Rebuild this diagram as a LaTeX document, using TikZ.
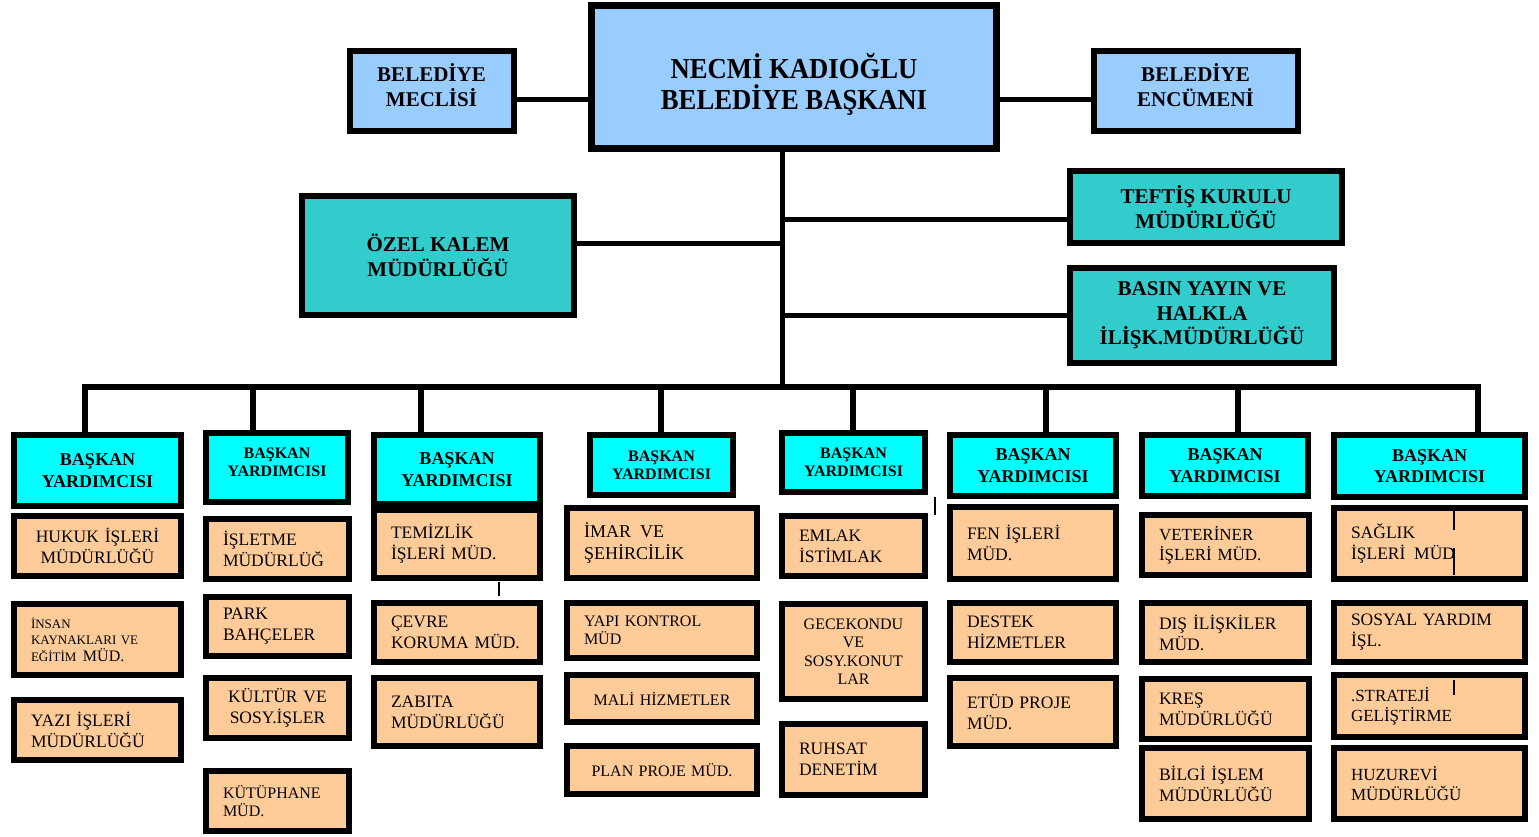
\documentclass[tikz,border=0pt]{standalone}
\usepackage{fontspec}
\setmainfont{Liberation Serif}
\newfontfamily\condserif[FakeStretch=0.92]{Liberation Serif}

\definecolor{meclisblue}{HTML}{99CCFF}
\definecolor{kalemteal}{HTML}{33CCCC}
\definecolor{yardcyan}{HTML}{00FFFF}
\definecolor{mudtan}{HTML}{FFCC99}

\tikzset{
  topbox/.style={draw, line width=6pt, fill=meclisblue, align=center,
    font=\bfseries\fontsize{21}{25}\selectfont},
  kalembox/.style={draw, line width=6pt, fill=kalemteal, align=center,
    font=\bfseries\fontsize{21}{24.5}\selectfont},
  yardbox/.style={draw, line width=6pt, fill=yardcyan, align=center,
    font=\bfseries\fontsize{18}{21.5}\selectfont},
  smallyard/.style={font=\bfseries\fontsize{16}{18}\selectfont},
  mudbox/.style={draw, line width=6pt, fill=mudtan, inner xsep=17pt, inner ysep=2pt,
    align=left, font=\fontsize{17.5}{21}\selectfont},
  smallmud/.style={font=\fontsize{16}{18.5}\selectfont},
  link/.style={line width=5pt}
}

\begin{document}
\begin{tikzpicture}[x=1pt,y=-1pt]
\useasboundingbox (0,0) rectangle (1539,836);

% baskan ve ust kurullar
\node[topbox, line width=7pt, minimum width=405pt, minimum height=143pt] (baskan) at (794,77) {};
\node[align=center, font=\condserif\bfseries\fontsize{29}{31}\selectfont] (baskanyazi) at ([yshift=-7pt]baskan.center) {NECMİ KADIOĞLU\\BELEDİYE BAŞKANI};
\node[topbox, minimum width=164pt, minimum height=80pt] (meclis) at (431.5,90.5) {};
\node[topbox, draw=none, fill=none] (meclisyazi) at ([yshift=5pt]meclis.center) {BELEDİYE\\MECLİSİ};
\node[topbox, minimum width=204pt, minimum height=80pt] (encumen) at (1195.5,90.5) {};
\node[topbox, draw=none, fill=none] (encumenyazi) at ([yshift=5pt]encumen.center) {BELEDİYE\\ENCÜMENİ};

\node[kalembox, minimum width=272pt, minimum height=119pt] (ozelkalem) at (438,255.5) {ÖZEL KALEM\\MÜDÜRLÜĞÜ};
\node[kalembox, minimum width=272pt, minimum height=72pt] (teftis) at (1206,207) {TEFTİŞ KURULU\\MÜDÜRLÜĞÜ};
\node[kalembox, minimum width=264pt, minimum height=95pt] (basin) at (1202,315.5) {BASIN YAYIN VE\\HALKLA\\İLİŞK.MÜDÜRLÜĞÜ};

\coordinate (trunk) at (782,387);
\draw[link] (baskan.south -| trunk) -- (trunk);
\draw[link] ([yshift=-8.5pt]meclis.east) -- ([yshift=-8.5pt]meclis.east -| baskan.west);
\draw[link] ([yshift=-8.5pt]encumen.west) -- ([yshift=-8.5pt]encumen.west -| baskan.east);
\draw[link] ([yshift=12.5pt]ozelkalem.east) -- ([yshift=12.5pt]ozelkalem.east -| trunk);
\draw[link] ([yshift=-12pt]teftis.west) -- ([yshift=-12pt]teftis.west -| trunk);
\draw[link] (basin.west) -- (basin.west -| trunk);

% baskan yardimcilari
\node[yardbox, minimum width=167pt, minimum height=71pt] (by1) at (97.5,470.5) {BAŞKAN\\YARDIMCISI};
\node[yardbox, minimum width=142pt, minimum height=69pt] (by2) at (277,467.5) {};
\node[yardbox, smallyard, draw=none, fill=none] (by2yazi) at ([yshift=5pt]by2.center) {BAŞKAN\\YARDIMCISI};
\node[yardbox, minimum width=166pt, minimum height=69pt] (by3) at (457,469.5) {BAŞKAN\\YARDIMCISI};
\node[yardbox, smallyard, minimum width=143pt, minimum height=60pt] (by4) at (661.5,465) {BAŞKAN\\YARDIMCISI};
\node[yardbox, smallyard, minimum width=143pt, minimum height=59pt] (by5) at (853.5,462.5) {BAŞKAN\\YARDIMCISI};
\node[yardbox, minimum width=166pt, minimum height=61pt] (by6) at (1033,465.5) {BAŞKAN\\YARDIMCISI};
\node[yardbox, minimum width=166pt, minimum height=61pt] (by7) at (1225,465.5) {BAŞKAN\\YARDIMCISI};
\node[yardbox, minimum width=191pt, minimum height=62pt] (by8) at (1429.5,466) {BAŞKAN\\YARDIMCISI};

\coordinate (b1) at (85,387);
\coordinate (b2) at (253,387);
\coordinate (b3) at (421,387);
\coordinate (b4) at (661,387);
\coordinate (b5) at (853,387);
\coordinate (b6) at (1046,387);
\coordinate (b7) at (1238,387);
\coordinate (b8) at (1478,387);
\draw[link, line width=5.5pt] (b1 |- by1.north) -- (b1) -- (b8) -- (b8 |- by8.north);
\draw[link, line width=5.5pt] (b2) -- (b2 |- by2.north);
\draw[link, line width=5.5pt] (b3) -- (b3 |- by3.north);
\draw[link, line width=5.5pt] (b4) -- (b4 |- by4.north);
\draw[link, line width=5.5pt] (b5) -- (b5 |- by5.north);
\draw[link, line width=5.5pt] (b6) -- (b6 |- by6.north);
\draw[link, line width=5.5pt] (b7) -- (b7 |- by7.north);

% mudurlukler
\node[mudbox, text width=133pt, align=center, minimum height=60pt] (hukuk) at (97.5,546) {HUKUK İŞLERİ\\MÜDÜRLÜĞÜ};
\node[mudbox, text width=133pt, minimum height=71pt, font=\fontsize{13}{16.5}\selectfont] (insan) at (97.5,639.5) {İNSAN\\KAYNAKLARI VE\\EĞİTİM\enspace{\fontsize{16}{16}\selectfont MÜD.}};
\node[mudbox, text width=133pt, minimum height=60pt] (yazi) at (97.5,730) {YAZI İŞLERİ\\MÜDÜRLÜĞÜ};

\node[mudbox, text width=109pt, minimum height=60pt] (isletme) at (277.5,549) {İŞLETME\\MÜDÜRLÜĞ};
\node[mudbox, text width=109pt, minimum height=59pt] (park) at (277.5,626.5) {PARK\\BAHÇELER};
\node[mudbox, text width=109pt, align=center, minimum height=60pt] (kultur) at (277.5,708) {KÜLTÜR VE\\SOSY.İŞLER};
\node[mudbox, smallmud, text width=109pt, minimum height=60pt] (kutuphane) at (277.5,801) {KÜTÜPHANE\\MÜD.};

\node[mudbox, text width=132pt, minimum height=68pt] (temizlik) at (457,544) {TEMİZLİK\\İŞLERİ MÜD.};
\node[mudbox, text width=132pt, minimum height=59pt] (cevre) at (457,632.5) {ÇEVRE\\KORUMA MÜD.};
\node[mudbox, text width=132pt, minimum height=68pt] (zabita) at (457,712) {ZABITA\\MÜDÜRLÜĞÜ};

\node[mudbox, text width=156pt, minimum height=70pt, font=\fontsize{18}{21.5}\selectfont] (imar) at (662,543) {İMAR\enspace VE\\ŞEHİRCİLİK};
\node[mudbox, smallmud, text width=156pt, minimum height=55pt] (yapi) at (662,630.5) {YAPI KONTROL\\MÜD};
\node[mudbox, smallmud, text width=156pt, align=center, minimum height=47pt] (mali) at (662,698.5) {MALİ HİZMETLER};
\node[mudbox, smallmud, text width=156pt, align=center, minimum height=48pt] (plan) at (662,770) {PLAN PROJE MÜD.};

\node[mudbox, text width=109pt, minimum height=60pt] (emlak) at (853.5,546) {EMLAK\\İSTİMLAK};
\node[mudbox, smallmud, text width=109pt, align=center, minimum height=95pt] (gecekondu) at (853.5,651.5) {GECEKONDU\\VE\\SOSY.KONUT\\LAR};
\node[mudbox, text width=109pt, minimum height=71pt] (ruhsat) at (853.5,759.5) {RUHSAT\\DENETİM};

\node[mudbox, text width=132pt, minimum height=72pt] (fen) at (1033,543) {FEN İŞLERİ\\MÜD.};
\node[mudbox, text width=132pt, minimum height=59pt] (destek) at (1033,632.5) {DESTEK\\HİZMETLER};
\node[mudbox, text width=132pt, minimum height=68pt] (etud) at (1033,712) {ETÜD PROJE\\MÜD.};

\node[mudbox, text width=133pt, minimum height=60pt, font=\fontsize{17}{20}\selectfont] (veteriner) at (1225.5,545) {VETERİNER\\İŞLERİ MÜD.};
\node[mudbox, text width=133pt, minimum height=59pt] (dis) at (1225.5,632.5) {DIŞ İLİŞKİLER\\MÜD.};
\node[mudbox, text width=133pt, minimum height=60pt] (kres) at (1225.5,709) {KREŞ\\MÜDÜRLÜĞÜ};
\node[mudbox, text width=133pt, minimum height=71pt] (bilgi) at (1225.5,783.5) {BİLGİ İŞLEM\\MÜDÜRLÜĞÜ};

\node[mudbox, text width=157pt, minimum height=71pt] (saglik) at (1429.5,543.5) {SAĞLIK\\İŞLERİ\enspace MÜD};
\node[mudbox, text width=157pt, minimum height=59pt] (sosyal) at (1429.5,632.5) {SOSYAL YARDIM\\İŞL.};
\node[mudbox, text width=157pt, minimum height=62pt, font=\fontsize{17}{20}\selectfont] (strateji) at (1429.5,706) {.STRATEJİ\\GELİŞTİRME};
\node[mudbox, text width=157pt, minimum height=71pt, font=\fontsize{17}{20}\selectfont] (huzurevi) at (1429.5,783.5) {HUZUREVİ\\MÜDÜRLÜĞÜ};

% kucuk cizgiler
\draw[line width=2pt] (499,582) -- (499,596);
\draw[line width=2pt] (935,497) -- (935,515);
\draw[line width=2pt] (1454,511) -- (1454,530);
\draw[line width=2pt] (1454,548) -- (1454,575);
\draw[line width=2pt] (1454,680) -- (1454,695);
\end{tikzpicture}
\end{document}
